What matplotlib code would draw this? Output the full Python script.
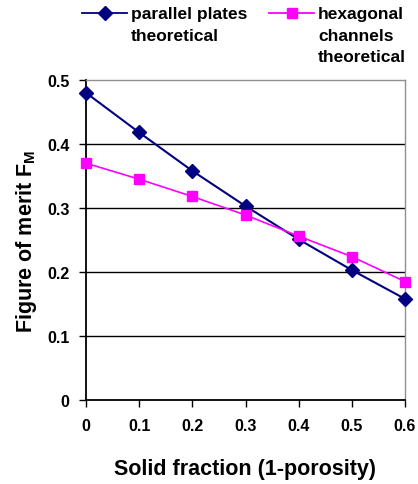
import matplotlib
matplotlib.use("Agg")
import matplotlib.pyplot as plt
from matplotlib.lines import Line2D

plt.rcParams['font.family'] = ['Liberation Sans', 'DejaVu Sans']
plt.rcParams['font.weight'] = 'bold'
plt.rcParams['mathtext.fontset'] = 'custom'
plt.rcParams['mathtext.rm'] = 'Liberation Sans:bold'
plt.rcParams['mathtext.bf'] = 'Liberation Sans:bold'

solid_fraction = [0, 0.1, 0.2, 0.3, 0.4, 0.5, 0.6]
parallel_plates = [0.480, 0.418, 0.358, 0.303, 0.251, 0.203, 0.158]
hex_channels = [0.370, 0.345, 0.318, 0.289, 0.256, 0.224, 0.185]

x_ticks = [0, 0.1, 0.2, 0.3, 0.4, 0.5, 0.6]
x_ticklabels = ['0', '0.1', '0.2', '0.3', '0.4', '0.5', '0.6']
y_ticks = [0, 0.1, 0.2, 0.3, 0.4, 0.5]
y_ticklabels = ['0', '0.1', '0.2', '0.3', '0.4', '0.5']

NAVY = '#000080'
MAGENTA = '#ff00ff'


def legend_entry(fig, x0, y, color, marker, msize, text):
    # handle line with marker at centre, text top-aligned with the handle
    W, H = 418.0, 485.0
    fig.add_artist(Line2D([x0 / W, (x0 + 45) / W], [1 - y / H, 1 - y / H],
                          color=color, linewidth=1.3, transform=fig.transFigure))
    fig.add_artist(Line2D([(x0 + 22.5) / W], [1 - y / H], color=color, marker=marker,
                          markersize=msize, linestyle='none', transform=fig.transFigure))
    fig.text((x0 + 49) / W, 1 - (y - 7) / H, text, fontsize=12.5, fontweight='bold',
             va='top', ha='left', linespacing=1.55)


def main():
    fig = plt.figure(figsize=(4.18, 4.85), dpi=100)
    ax = fig.add_axes([86 / 418, 1 - 401 / 485, 319 / 418, 320 / 485])

    ax.plot(solid_fraction, parallel_plates, color=NAVY, marker='D', markersize=7,
            linewidth=1.5, zorder=3, clip_on=False)
    ax.plot(solid_fraction, hex_channels, color=MAGENTA, marker='s', markersize=7.5,
            linewidth=1.2, zorder=4, clip_on=False)

    ax.set_xlim(0, 0.6)
    ax.set_ylim(0, 0.5)
    ax.set_xticks(x_ticks)
    ax.set_xticklabels(x_ticklabels, fontsize=11.5, fontweight='bold')
    ax.set_yticks(y_ticks)
    ax.set_yticklabels(y_ticklabels, fontsize=11.5, fontweight='bold')
    ax.tick_params(axis='both', direction='out', length=5, width=1)
    ax.tick_params(axis='x', pad=8)
    ax.tick_params(axis='y', pad=7)

    # horizontal grid lines
    for y in y_ticks[1:-1]:
        ax.axhline(y, color='black', linewidth=1, zorder=1)

    for side in ['left', 'bottom']:
        ax.spines[side].set_color('black')
        ax.spines[side].set_linewidth(1.3)
    for side in ['top', 'right']:
        ax.spines[side].set_color('#909090')
        ax.spines[side].set_linewidth(1)

    ax.set_xlabel('Solid fraction (1-porosity)', fontsize=15.5, fontweight='bold', labelpad=18)
    ax.set_ylabel(r'Figure of merit F$_\mathbf{M}$', fontsize=15.5, fontweight='bold', labelpad=6)

    legend_entry(fig, 82, 14, NAVY, 'D', 7, 'parallel plates\ntheoretical')
    legend_entry(fig, 269, 14, MAGENTA, 's', 7.5, 'hexagonal\nchannels\ntheoretical')

    fig.savefig('out.png', dpi=100)


if __name__ == "__main__":
    main()
